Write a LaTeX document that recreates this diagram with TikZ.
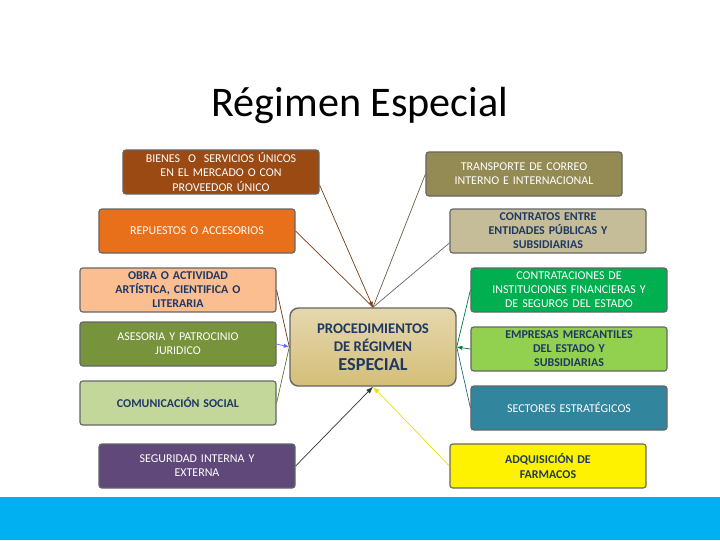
\documentclass[tikz,border=0pt]{standalone}
\usepackage{fontspec}
\setmainfont{Carlito}
\usetikzlibrary{arrows.meta}
\definecolor{cbrown}{RGB}{154,74,18}
\definecolor{corange}{RGB}{232,112,26}
\definecolor{cpeach}{RGB}{250,190,145}
\definecolor{colive}{RGB}{119,147,60}
\definecolor{clgreen}{RGB}{196,215,155}
\definecolor{cpurple}{RGB}{96,73,122}
\definecolor{ckhaki}{RGB}{148,138,84}
\definecolor{ctan}{RGB}{196,189,151}
\definecolor{cgreen}{RGB}{0,176,80}
\definecolor{cyelgreen}{RGB}{146,208,80}
\definecolor{cteal}{RGB}{49,133,156}
\definecolor{cgold}{RGB}{212,190,120}
\definecolor{cnavy}{RGB}{31,56,100}
\definecolor{ccyan}{RGB}{0,176,240}
\tikzset{
  box/.style={draw=black!60, line width=0.8pt, rounded corners=2pt, align=center,
    inner sep=1pt, font=\fontsize{8.5}{10}\selectfont, text=white,
    minimum width=4.9cm, minimum height=1.1cm, text width=4.7cm},
  darkbox/.style={box, text=cnavy, font=\fontsize{8.5}{10}\selectfont\bfseries},
  link/.style={line width=0.5pt}
}
\begin{document}
\begin{tikzpicture}[x=0.025cm, y=-0.025cm]
  \useasboundingbox (0,0) rectangle (720,540);
  \fill[ccyan] (0,497) rectangle (720,540);
  \node[font=\fontsize{30}{34}\selectfont] (title) at (360,105) {Régimen Especial};

  % centre
  \node[draw=black!60, line width=1pt, rounded corners=6pt, top color=cgold!60, bottom color=cgold,
    minimum width=4.15cm, minimum height=1.95cm, align=center, text=cnavy,
    font=\fontsize{10.5}{13}\selectfont\bfseries] (centre) at (373,347)
    {PROCEDIMIENTOS\\DE RÉGIMEN\\{\fontsize{13}{15}\selectfont ESPECIAL}};

  % left column
  \node[box, fill=cbrown]       (bienes)   at (221,172) {BIENES\ \ O\ \ SERVICIOS ÚNICOS\\EN EL MERCADO O CON\\PROVEEDOR ÚNICO};
  \node[box, fill=corange]      (repuesto) at (197,231) {REPUESTOS O ACCESORIOS};
  \node[darkbox, fill=cpeach]   (obra)     at (178,290) {OBRA O ACTIVIDAD\\ARTÍSTICA, CIENTIFICA O\\LITERARIA};
  \node[box, fill=colive]       (asesoria) at (178,344) {ASESORIA Y PATROCINIO\\JURIDICO};
  \node[darkbox, fill=clgreen]  (comunic)  at (178,403) {COMUNICACIÓN SOCIAL};
  \node[box, fill=cpurple]      (segur)    at (197,466) {SEGURIDAD INTERNA Y\\EXTERNA};

  % right column
  \node[box, fill=ckhaki]       (correo)   at (524,174) {TRANSPORTE DE CORREO\\INTERNO E INTERNACIONAL};
  \node[darkbox, fill=ctan]     (contrato) at (548,231) {CONTRATOS ENTRE\\ENTIDADES PÚBLICAS Y\\SUBSIDIARIAS};
  \node[box, fill=cgreen]       (financ)   at (569,290) {CONTRATACIONES DE\\INSTITUCIONES FINANCIERAS Y\\DE SEGUROS DEL ESTADO};
  \node[darkbox, fill=cyelgreen](empresa)  at (569,349) {EMPRESAS MERCANTILES\\DEL ESTADO Y\\SUBSIDIARIAS};
  \node[box, fill=cteal]        (sector)   at (569,408) {SECTORES ESTRATÉGICOS};
  \node[darkbox, fill=yellow]   (farmaco)  at (548,466) {ADQUISICIÓN DE\\FARMACOS};

  % connectors
  \draw[link, cbrown!80!black, -{Latex[length=4pt]}] (bienes.east |- 0,185) -- (centre.north);
  \draw[link, cbrown!80!black] (repuesto.east) -- (centre.north);
  \draw[link, ckhaki!70!black] (correo.west) -- (centre.north);
  \draw[link, black!60] (contrato.west |- 0,243) -- (centre.north);
  \draw[link, cbrown!70!black] (obra.east) -- (centre.west);
  \draw[link, blue!60, -{Latex[length=4pt]}] (asesoria.east) -- (centre.west);
  \draw[link, colive!80!black] (comunic.east) -- (centre.west);
  \draw[link, cgreen!70!black] (financ.west) -- (centre.east);
  \draw[link, cgreen!70!black, -{Latex[length=4pt]}] (empresa.west) -- (centre.east);
  \draw[link, cteal!80!black] (sector.west) -- (centre.east);
  \draw[link, black!80, -{Latex[length=5pt]}] (segur.east) -- (centre.south);
  \draw[link, yellow!90!black, -{Latex[length=5pt]}] (farmaco.west) -- (centre.south);
\end{tikzpicture}
\end{document}
